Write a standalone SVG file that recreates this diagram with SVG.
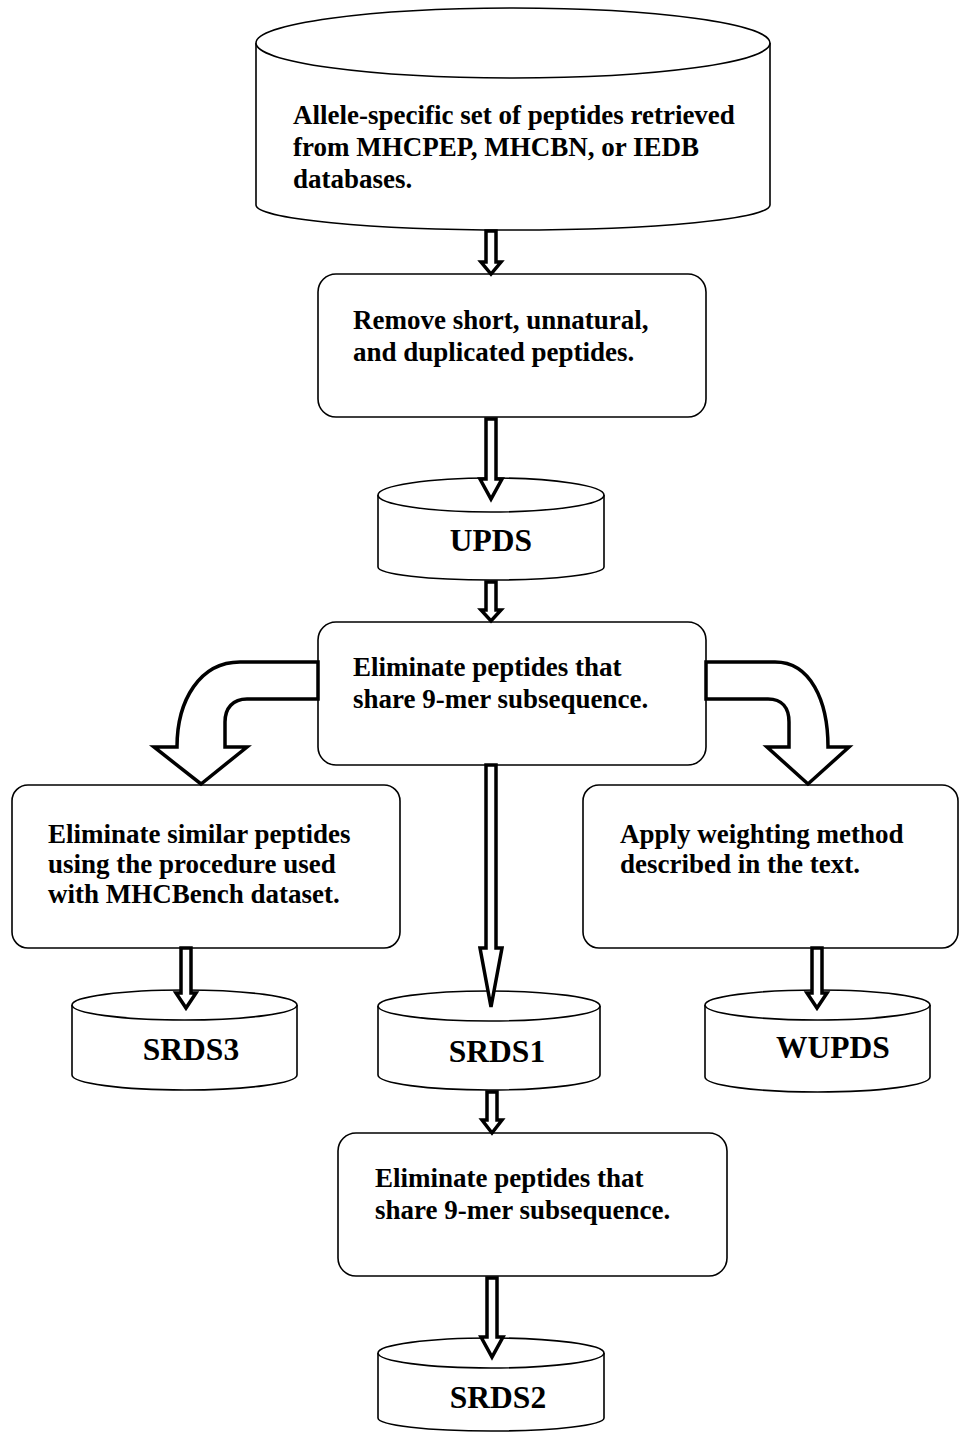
<svg xmlns="http://www.w3.org/2000/svg" width="960" height="1433" viewBox="0 0 960 1433">
<style>
.box{fill:#fff;stroke:#000;stroke-width:1.6}
.cyl{fill:#fff;stroke:#000;stroke-width:1.6}
.arr{fill:#fff;stroke:#000;stroke-width:3.5;stroke-linejoin:miter}
.t{font-family:"Liberation Serif","Times New Roman",serif;font-weight:bold;font-size:27px;fill:#000}
.lbl{font-family:"Liberation Serif","Times New Roman",serif;font-weight:bold;font-size:31.5px;fill:#000;text-anchor:middle}
</style>
<rect width="960" height="1433" fill="#fff"/>
<g id="db-source">
<path class="cyl" d="M256,43 L256,205 A257,25 0 0 0 770,205 L770,43"/>
<ellipse class="cyl" cx="513" cy="43" rx="257" ry="35"/>
<text class="t" x="293" y="124">Allele-specific set of peptides retrieved</text>
<text class="t" x="293" y="156">from MHCPEP, MHCBN, or IEDB</text>
<text class="t" x="293" y="188">databases.</text>
</g>
<g id="step-remove">
<rect class="box" x="318" y="274" width="388" height="143" rx="18"/>
<text class="t" x="353" y="329">Remove short, unnatural,</text>
<text class="t" x="353" y="361">and duplicated peptides.</text>
</g>
<g id="db-upds">
<path class="cyl" d="M378,495 L378,567 A113,13 0 0 0 604,567 L604,495"/>
<ellipse class="cyl" cx="491" cy="495" rx="113" ry="17"/>
<text class="lbl" x="491" y="551">UPDS</text>
</g>
<g id="step-eliminate-9mer">
<rect class="box" x="318" y="622" width="388" height="143" rx="18"/>
<text class="t" x="353" y="676">Eliminate peptides that</text>
<text class="t" x="353" y="708">share 9-mer subsequence.</text>
</g>
<g id="step-similar">
<rect class="box" x="12" y="785" width="388" height="163" rx="16"/>
<text class="t" x="48" y="843">Eliminate similar peptides</text>
<text class="t" x="48" y="873">using the procedure used</text>
<text class="t" x="48" y="903">with MHCBench dataset.</text>
</g>
<g id="step-weighting">
<rect class="box" x="583" y="785" width="375" height="163" rx="16"/>
<text class="t" x="620" y="843">Apply weighting method</text>
<text class="t" x="620" y="873">described in the text.</text>
</g>
<g id="db-srds3">
<path class="cyl" d="M72,1005 L72,1075 A112.5,15 0 0 0 297,1075 L297,1005"/>
<ellipse class="cyl" cx="184.5" cy="1005" rx="112.5" ry="15"/>
<text class="lbl" x="191" y="1060">SRDS3</text>
</g>
<g id="db-srds1">
<path class="cyl" d="M378,1006 L378,1075 A111,15 0 0 0 600,1075 L600,1006"/>
<ellipse class="cyl" cx="489" cy="1006" rx="111" ry="15"/>
<text class="lbl" x="497" y="1062">SRDS1</text>
</g>
<g id="db-wupds">
<path class="cyl" d="M705,1005 L705,1077 A112.5,15 0 0 0 930,1077 L930,1005"/>
<ellipse class="cyl" cx="817.5" cy="1005" rx="112.5" ry="15"/>
<text class="lbl" x="833" y="1058">WUPDS</text>
</g>
<g id="step-eliminate-9mer-2">
<rect class="box" x="338" y="1133" width="389" height="143" rx="18"/>
<text class="t" x="375" y="1187">Eliminate peptides that</text>
<text class="t" x="375" y="1219">share 9-mer subsequence.</text>
</g>
<g id="db-srds2">
<path class="cyl" d="M378,1353 L378,1418 A113,13 0 0 0 604,1418 L604,1353"/>
<ellipse class="cyl" cx="491" cy="1353" rx="113" ry="15"/>
<text class="lbl" x="498" y="1408">SRDS2</text>
</g>
<g id="connectors">
<path class="arr" d="M486,231 L496,231 L496,262 L501,262 L491,274 L481,262 L486,262 Z"/>
<path class="arr" d="M486,419 L496,419 L496,479 L502,479 L491,499 L480,479 L486,479 Z"/>
<path class="arr" d="M486,582 L496,582 L496,610 L501,610 L491,621 L481,610 L486,610 Z"/>
<path class="arr" d="M486,765 L496,765 L496,948 L502,948 L491,1007 L480,948 L486,948 Z"/>
<path class="arr" d="M181,948 L191,948 L191,993 L196,993 L186,1008 L176,993 L181,993 Z"/>
<path class="arr" d="M812,948 L822,948 L822,993 L827,993 L817,1008 L807,993 L812,993 Z"/>
<path class="arr" d="M487,1092 L497,1092 L497,1120 L502,1120 L492,1133 L482,1120 L487,1120 Z"/>
<path class="arr" d="M487,1278 L497,1278 L497,1337 L503,1337 L492,1357 L481,1337 L487,1337 Z"/>
<path class="arr" d="M318,662 L240,662 C200,662 177,700 177,747 L154,747 L201,784 L247,747 L225,747 L225,722 C225,708 233,699 247,699 L318,699 Z"/>
<path class="arr" d="M706,662 L775,662 C810,662 828,700 828,747 L849,747 L808,784 L767,747 L789,747 L789,722 C789,708 782,699 768,699 L706,699 Z"/>
</g>
</svg>
